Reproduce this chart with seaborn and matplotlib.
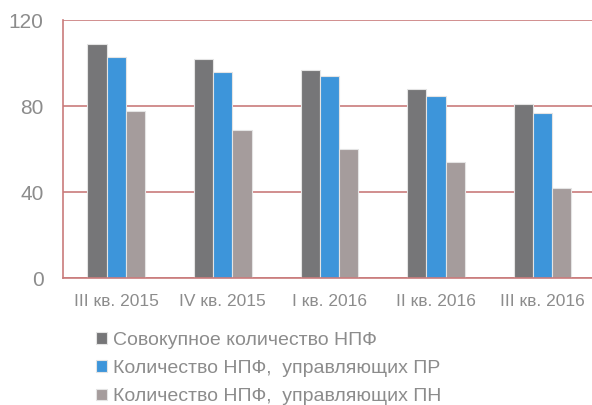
import pandas as pd
import numpy as np
import matplotlib
matplotlib.use('Agg')
import matplotlib.pyplot as plt
import seaborn as sns

# data
quarters = ['III кв. 2015', 'IV кв. 2015', 'I кв. 2016', 'II кв. 2016', 'III кв. 2016']
series_names = ['Совокупное количество НПФ',
                'Количество НПФ,  управляющих ПР',
                'Количество НПФ,  управляющих ПН']
total_npf = [109, 102, 97, 88, 81]
npf_pr = [103, 96, 94, 85, 77]
npf_pn = [78, 69, 60, 54, 42]
colors = ['#767678', '#3D95DA', '#A59C9C']

df = pd.DataFrame({'quarter': quarters,
                   series_names[0]: total_npf,
                   series_names[1]: npf_pr,
                   series_names[2]: npf_pn})
long_df = df.melt(id_vars='quarter', var_name='series', value_name='value')

sns.set_style('white')
plt.rcParams['font.family'] = ['Liberation Sans', 'DejaVu Sans']

fig = plt.figure(figsize=(5.92, 4.05), dpi=100)
ax = fig.add_axes([0.1064, 0.3128, 0.9, 0.6372])

sns.barplot(data=long_df, x='quarter', y='value', hue='series', palette=colors,
            width=0.54, edgecolor='#E4E4E4', linewidth=0.8, saturation=1, ax=ax)

grid_col = '#C97B7B'
ax.set_ylim(0, 120)
ax.set_xlim(-0.5, 4.5)
ax.set_yticks([0, 40, 80, 120])
ax.yaxis.grid(True, color=grid_col, linewidth=1.2)
ax.set_axisbelow(True)
for side in ['top', 'right']:
    ax.spines[side].set_visible(False)
ax.spines['left'].set_color(grid_col)
ax.spines['bottom'].set_color(grid_col)
ax.spines['left'].set_linewidth(1.2)
ax.spines['bottom'].set_linewidth(1.2)
ax.tick_params(axis='both', length=0, colors='#8C8C8C', labelsize=15)
ax.tick_params(axis='y', pad=14)
ax.tick_params(axis='x', pad=11)
for t in ax.get_xticklabels():
    t.set_fontsize(12.5)
ax.set_xlabel('')
ax.set_ylabel('')

ax.legend(loc='upper left', bbox_to_anchor=(0.044, -0.17), frameon=False,
          fontsize=14, labelcolor='#8C8C8C', handlelength=0.55, handleheight=0.55,
          handletextpad=0.3, labelspacing=0.58, borderpad=0)

fig.savefig('out.png', dpi=100)
